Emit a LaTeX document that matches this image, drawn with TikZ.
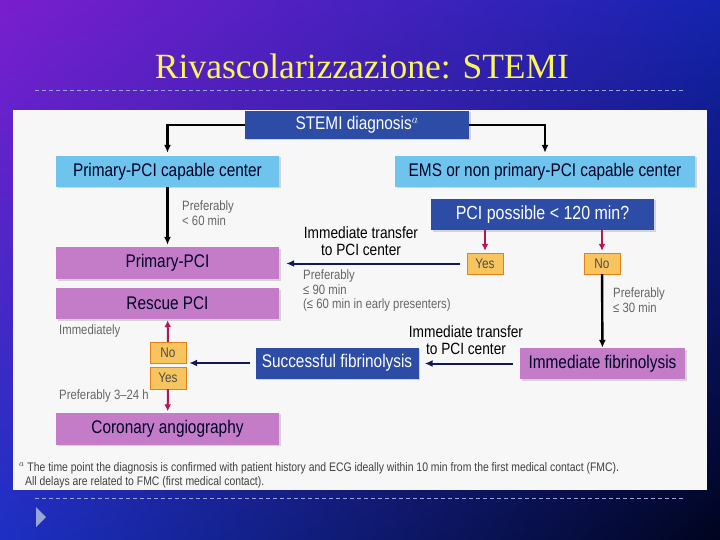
\documentclass[tikz,border=0pt]{standalone}
\usepackage{fontspec}
\usepackage{tikz}
\usetikzlibrary{positioning,arrows.meta,calc,shadows,shadings}
\newfontfamily\narrowfont[FakeStretch=0.84]{Liberation Sans}
\newfontfamily\titlefont{Liberation Serif}
\definecolor{deepblue}{HTML}{2C4CA6}
\definecolor{skyblue}{HTML}{6EC4EC}
\definecolor{orchid}{HTML}{C47CC8}
\definecolor{answer}{HTML}{F8C45E}
\definecolor{crimson}{HTML}{B01858}
\definecolor{navyline}{HTML}{101858}
\definecolor{dashcol}{HTML}{9AA6DA}
\definecolor{bgul}{HTML}{7A1ECD}
\definecolor{bgur}{HTML}{1424B0}
\definecolor{bgll}{HTML}{1C30C4}
\definecolor{bglr}{HTML}{00041E}
\definecolor{titleyellow}{HTML}{FAF55A}

\begin{document}
\begin{tikzpicture}[x=1pt, y=-1pt,
  box/.style={rectangle, minimum height=31pt, inner sep=0pt,
    font=\narrowfont\fontsize{18.3}{20}\selectfont,
    drop shadow={shadow xshift=1.5pt, shadow yshift=-1.5pt, fill=gray!60, opacity=0.5}},
  darkbox/.style={box, fill=deepblue, text=white},
  lightbox/.style={box, fill=skyblue, text=black!85!blue},
  pinkbox/.style={box, fill=orchid, text=black!85!blue},
  choice/.style={rectangle, fill=answer, draw=orange!60!brown, minimum width=36pt, minimum height=21pt,
    inner sep=0pt, font=\narrowfont\fontsize{14}{16}\selectfont, text=black!70},
  note/.style={font=\narrowfont\fontsize{13.5}{14.5}\selectfont, text=black!60, align=left, inner sep=0pt},
  step label/.style={font=\narrowfont\fontsize{16.3}{17.5}\selectfont, align=center, inner sep=0pt},
  link/.style={-{Latex[length=8pt,width=7pt]}, line width=2.4pt},
  redlink/.style={-{Latex[length=7pt,width=7pt]}, line width=2pt, crimson},
  bluelink/.style={-{Latex[length=8pt,width=7pt]}, line width=2pt, navyline}
]
  \useasboundingbox (0,0) rectangle (720,540);
  % slide background
  \shade[upper left=bgul, upper right=bgur, lower left=bgll, lower right=bglr] (0,0) rectangle (720,540);
  \node[font=\titlefont\fontsize{35.5}{40}\selectfont, text=titleyellow, inner sep=0pt]
    (title) at (362,66) {Rivascolarizzazione: STEMI};
  \draw[dashcol, dash pattern=on 4pt off 3pt] (35,90) -- (685,90);
  \draw[dashcol, dash pattern=on 4pt off 3pt] (35,498) -- (685,498);
  \fill[dashcol] (36,507) -- (46,517) -- (36,527) -- cycle;

  % figure panel
  \fill[black!3] (13,110) rectangle (707,490);

  \node[darkbox, minimum width=224pt, minimum height=28pt] (diag) at (357,125) {STEMI diagnosis$^{a}$};
  \node[lightbox, minimum width=223pt] (pcc) at (167.5,171.5) {Primary-PCI capable center};
  \node[lightbox, minimum width=300pt] (ems) at (545,171.5) {EMS or non primary-PCI capable center};
  \node[darkbox, minimum width=223pt, font=\narrowfont\fontsize{19}{21}\selectfont] (poss) at (542.5,214.5) {PCI possible < 120 min?};
  \node[choice] (yes1) at (485,263.5) {Yes};
  \node[choice] (no1) at (602,263.5) {No};
  \node[pinkbox, minimum width=223pt, minimum height=32pt] (ppci) at (167.5,263) {Primary-PCI};
  \node[pinkbox, minimum width=223pt] (rescue) at (167.5,303.5) {Rescue PCI};
  \node[choice, minimum height=22pt] (yes2) at (168,378) {Yes};
  \node[choice] (no2) at (168,352.5) {No};
  \node[darkbox, minimum width=163pt] (succ) at (337,363) {Successful fibrinolysis};
  \node[pinkbox, minimum width=165pt] (immf) at (602.5,363.5) {Immediate fibrinolysis};
  \node[pinkbox, minimum width=223pt, minimum height=32pt] (cor) at (167.5,428.5) {Coronary angiography};

  % connectors
  \draw[link, shorten >=3pt] (diag.west) -| (pcc.north);
  \draw[link, shorten >=3pt] (diag.east) -| (ems.north);
  \draw[link, shorten >=2pt] (pcc) -- (ppci);
  \draw[redlink, shorten >=2pt] (poss.south -| yes1) -- (yes1);
  \draw[redlink, shorten >=2pt] (poss.south -| no1) -- (no1);
  \draw[bluelink, shorten <=7pt, shorten >=7pt] (yes1.west) -- (yes1.west -| ppci.east);
  \draw[link] (no1) -- (immf);
  \draw[bluelink, shorten <=7pt, shorten >=6pt] (immf.west) -- (immf.west -| succ.east);
  \draw[bluelink, shorten <=5pt, shorten >=3pt] (succ.west) -- (succ.west -| no2.east);
  \draw[redlink, shorten >=1pt] (no2) -- (rescue);
  \draw[redlink, shorten >=1pt] (yes2) -- (cor);

  % labels
  \node[note, anchor=north west] (pref60) at (182,201) {Preferably\\< 60 min};
  \node[step label] (transfer1) at (361,241) {Immediate transfer\\to PCI center};
  \node[note, anchor=north west] (pref90) at (303,270) {Preferably\\≤ 90 min\\(≤ 60 min in early presenters)};
  \node[note, anchor=north west] (pref30) at (613,288) {Preferably\\≤ 30 min};
  \node[step label] (transfer2) at (466,340) {Immediate transfer\\to PCI center};
  \node[note, anchor=west] (immed) at (59,331) {Immediately};
  \node[note, anchor=west] (pref324) at (59,396) {Preferably 3–24 h};
  \node[note, anchor=north west, text=black!75, font=\narrowfont\fontsize{12.4}{14}\selectfont] (foot) at (19,462)
    {$^{a}$ The time point the diagnosis is confirmed with patient history and ECG ideally within 10 min from the first medical contact (FMC).\\
     \hspace*{6pt}All delays are related to FMC (first medical contact).};
\end{tikzpicture}
\end{document}
